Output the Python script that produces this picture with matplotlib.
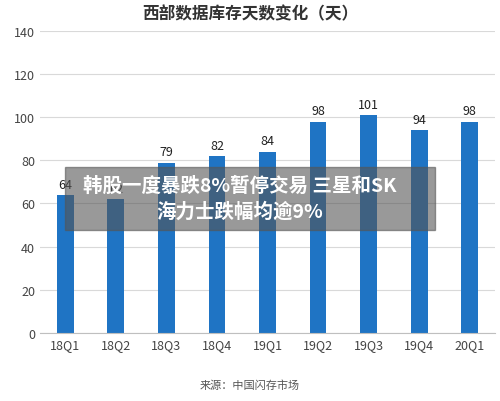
import matplotlib.pyplot as plt
from matplotlib.patches import Rectangle

plt.rcParams['font.family'] = ['Noto Sans CJK SC', 'DejaVu Sans']

quarters = ["18Q1", "18Q2", "18Q3", "18Q4", "19Q1", "19Q2", "19Q3", "19Q4", "20Q1"]
days = [64, 62, 79, 82, 84, 98, 101, 94, 98]

fig = plt.figure(figsize=(5.0, 4.02), dpi=100)
ax = fig.add_axes([0.08, 0.17, 0.91, 0.75])

ax.bar(range(len(quarters)), days, width=0.33, color="#1f74c4", zorder=2)
for i, v in enumerate(days):
    ax.text(i, v + 2, str(v), ha="center", va="bottom", fontsize=9, color="#222222")

ax.set_ylim(0, 140)
ax.set_yticks(range(0, 141, 20))
ax.set_xlim(-0.5, len(quarters) - 0.5)
ax.set_xticks(range(len(quarters)))
ax.set_xticklabels(quarters)
ax.tick_params(labelsize=9, colors="#444444", length=0)
ax.grid(axis="y", color="#d9d9d9", linewidth=0.8, zorder=0)
for s in ["top", "right", "left"]:
    ax.spines[s].set_visible(False)
ax.spines["bottom"].set_color("#bfbfbf")

fig.text(0.5, 0.965, "西部数据库存天数变化（天）", ha="center", va="center",
         fontsize=12, fontweight="bold", color="#333333")
fig.text(0.5, 0.04, "来源：中国闪存市场", ha="center", va="center",
         fontsize=8, color="#555555")

# news banner overlay
fig.patches.append(Rectangle((0.13, 0.425), 0.74, 0.158, transform=fig.transFigure,
                             color="#555555", alpha=0.6, zorder=5))
fig.text(0.48, 0.537, "韩股一度暴跌8%暂停交易 三星和SK", ha="center", va="center",
         fontsize=14, fontweight="bold", color="white", zorder=6)
fig.text(0.48, 0.472, "海力士跌幅均逾9%", ha="center", va="center",
         fontsize=14, fontweight="bold", color="white", zorder=6)

fig.savefig("out.png", dpi=100)
